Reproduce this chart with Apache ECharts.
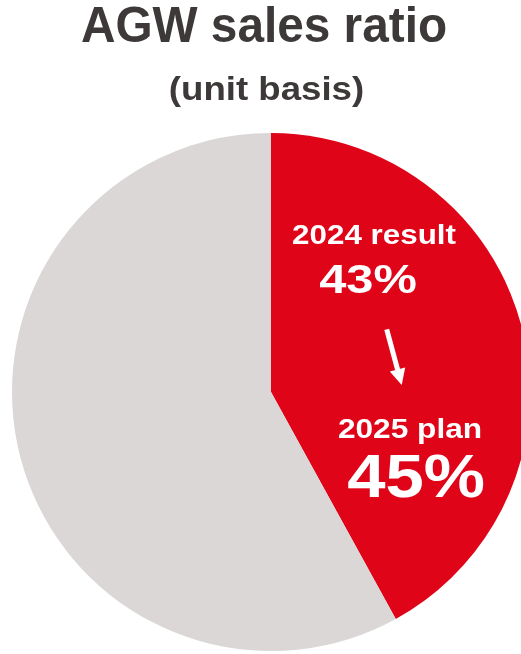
<!DOCTYPE html>
<html>
<head>
<meta charset="utf-8">
<script src="https://cdn.jsdelivr.net/npm/echarts@6/dist/echarts.min.js"></script>
<style>
html,body{margin:0;padding:0;background:#fff;}
#c{width:521px;height:654px;}
</style>
</head>
<body>
<div id="c"></div>
<script>
var categories = ['AGW', 'Other'];
var shareValues = [42, 58];
var sliceColors = ['#E00419', '#DAD7D6'];
var titleText = 'AGW sales ratio';
var subtitleText = '(unit basis)';
var periodLabels = ['2024 result', '2025 plan'];
var ratioValues = [43, 45];

var FONT = "'Liberation Sans', Arial, sans-serif";
var chart = echarts.init(document.getElementById('c'), null, {renderer: 'canvas'});

function txt(text, cx, cy, size, sx, fill, shadow) {
  var st = {
    text: text, x: 0, y: 0,
    font: 'bold ' + size + 'px ' + FONT,
    fill: fill, textAlign: 'center', textVerticalAlign: 'middle'
  };
  if (shadow) {
    st.shadowColor = 'rgba(70,0,0,0.55)';
    st.shadowBlur = 2;
    st.shadowOffsetX = 1.5;
    st.shadowOffsetY = 1.5;
  }
  return {type: 'text', x: cx, y: cy + 2.5, scaleX: sx, scaleY: 1, z: 100, silent: true, style: st};
}

var option = {
  animation: false,
  backgroundColor: '#ffffff',
  series: [{
    type: 'pie',
    center: [271, 392],
    radius: 259,
    startAngle: 90,
    clockwise: true,
    silent: true,
    label: {show: false},
    labelLine: {show: false},
    itemStyle: {borderWidth: 0},
    data: categories.map(function (c, i) {
      return {name: c, value: shareValues[i], itemStyle: {color: sliceColors[i]}};
    })
  }],
  graphic: [
    txt(titleText, 264, 25.5, 50, 0.955, '#3D3938', false),
    txt(subtitleText, 266.5, 88, 33, 1.11, '#3D3938', false),
    txt(periodLabels[0], 374, 233.5, 28, 1.12, '#ffffff', true),
    txt(ratioValues[0] + '%', 368, 279.5, 41, 1.19, '#ffffff', true),
    txt(periodLabels[1], 410, 428, 28, 1.13, '#ffffff', true),
    txt(ratioValues[1] + '%', 416, 477.5, 62, 1.11, '#ffffff', true),
    {type: 'line', z: 100, silent: true,
      shape: {x1: 386.7, y1: 329.3, x2: 398.5, y2: 373},
      style: {stroke: '#ffffff', lineWidth: 5}},
    {type: 'polygon', z: 100, silent: true,
      shape: {points: [[389.8, 371.6], [405.2, 367.4], [401.7, 385]]},
      style: {fill: '#ffffff'}}
  ]
};
chart.setOption(option);
</script>
</body>
</html>
